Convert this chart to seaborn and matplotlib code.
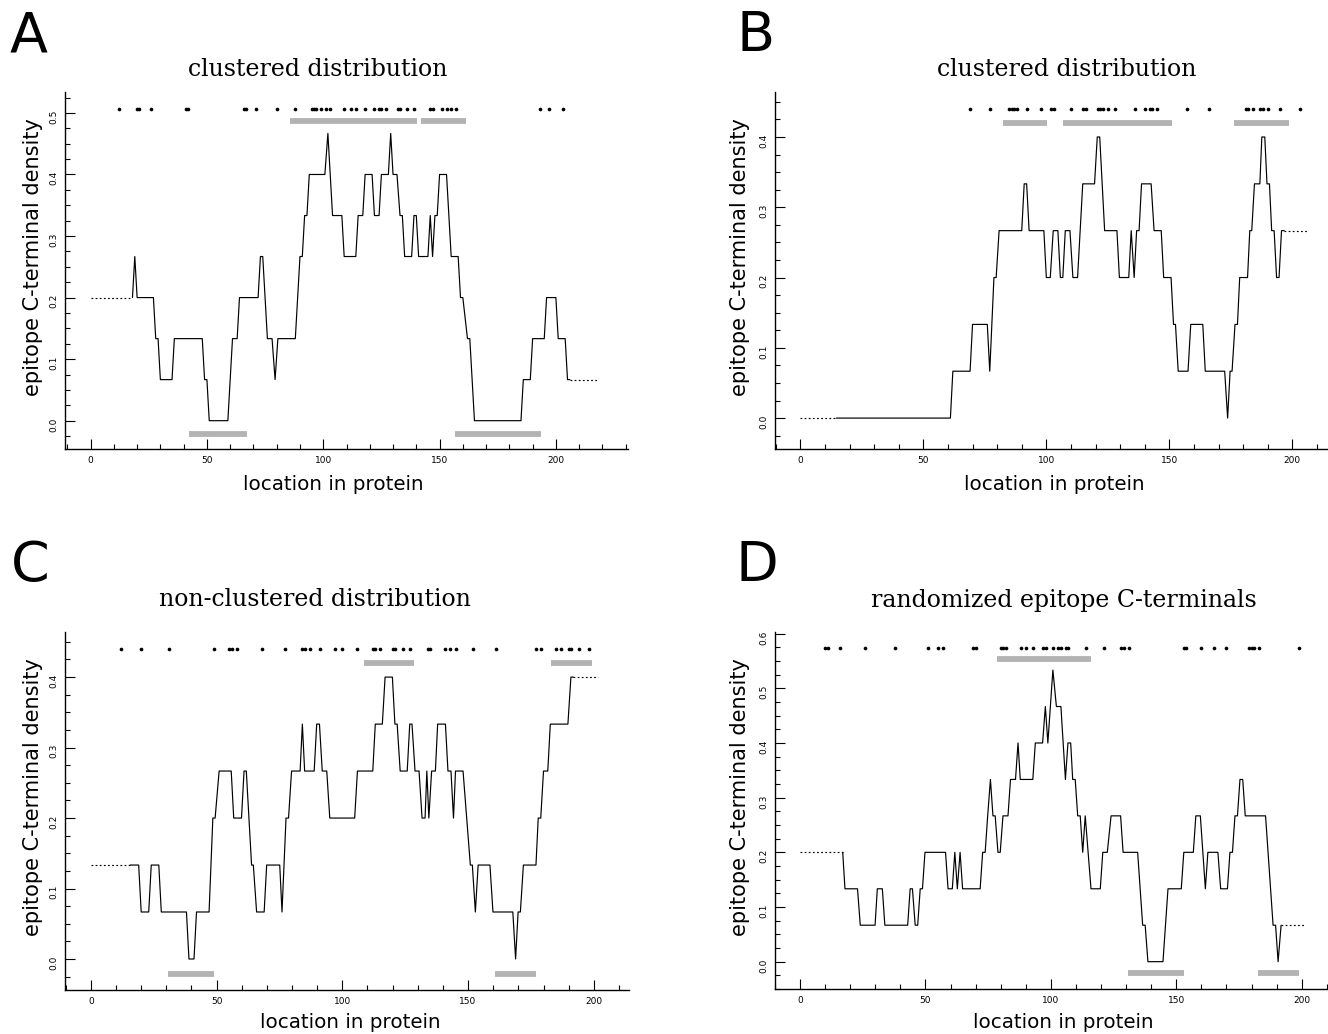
import matplotlib
matplotlib.use("Agg")
import matplotlib.pyplot as plt
import seaborn as sns
import pandas as pd
from matplotlib.ticker import MultipleLocator, FormatStrFormatter

sns.set_style("ticks")
plt.rcParams['font.family'] = ['DejaVu Sans']
plt.rcParams.update({"text.color": "black", "axes.labelcolor": "black",
                     "xtick.color": "black", "ytick.color": "black",
                     "axes.edgecolor": "black"})

# ---------------- data ----------------
titles = ["clustered distribution", "clustered distribution",
          "non-clustered distribution", "randomized epitope C-terminals"]
letters = ["A", "B", "C", "D"]

# Panel A
A_line_x = [18, 19, 20, 27, 28, 29, 30, 35, 36, 48, 49, 50, 51, 59, 61, 63, 64, 72, 73, 74,
            76, 78, 79.3, 80.5, 88, 90, 91, 92, 93, 94, 100.7, 102, 104, 108, 109, 114, 115, 117, 118, 121,
            122, 124, 125, 128, 129, 130, 131.7, 133, 134, 135, 138, 139, 140, 141, 145, 146, 147, 148, 149, 150,
            153, 154, 155, 158, 159, 160, 162, 163, 164, 165, 185, 186, 189, 190, 195, 196, 200, 201, 204, 205, 206]
A_line_y = [0.2, 0.2667, 0.2, 0.2, 0.1333, 0.1333, 0.0667, 0.0667, 0.1333, 0.1333,
            0.0667, 0.0667, 0.0, 0.0, 0.1333, 0.1333, 0.2, 0.2, 0.2667, 0.2667,
            0.1333, 0.1333, 0.0667, 0.1333, 0.1333, 0.2667, 0.2667, 0.3333, 0.3333, 0.4,
            0.4, 0.4667, 0.3333, 0.3333, 0.2667, 0.2667, 0.3333, 0.3333, 0.4, 0.4,
            0.3333, 0.3333, 0.4, 0.4, 0.4667, 0.4, 0.4, 0.3333, 0.3333, 0.2667,
            0.2667, 0.3333, 0.3333, 0.2667, 0.2667, 0.3333, 0.2667, 0.3333, 0.3333, 0.4,
            0.4, 0.3333, 0.2667, 0.2667, 0.2, 0.2, 0.1333, 0.1333, 0.0667, 0.0,
            0.0, 0.0667, 0.0667, 0.1333, 0.1333, 0.2, 0.2, 0.1333, 0.1333, 0.0667, 0.0667]
A_lead_x, A_lead_y = [0, 18], [0.2, 0.2]
A_tail_x, A_tail_y = [206, 218], [0.0667, 0.0667]
A_dots = [12, 20, 21, 26, 41, 42, 66, 67, 71, 80, 88, 95, 96, 97, 99, 101, 103, 109, 112, 114,
          118, 122, 124, 125, 127, 132, 133, 136, 139, 146, 147, 151, 153, 155, 157, 193, 197, 203]
A_top_start, A_top_end = [85.6, 141.9], [140.2, 161.3]
A_bot_start, A_bot_end = [42.5, 156.6], [67.1, 193.5]

# Panel B
B_line_x = [14.6, 61, 62, 69, 70, 76, 77, 78.7, 79.6, 80.8, 90, 91, 92, 93, 99, 100, 101.6, 102.8, 104.7, 105.7,
            106.7, 107.7, 109.6, 110.8, 112.7, 114.8, 119.6, 120.7, 121.7, 123.7, 128.7, 129.7, 133.5, 134.5,
            135.7, 136.7, 137.7, 138.7, 142.6, 143.8, 146.7, 147.7, 150.7, 151.7, 152.5, 153.6, 157.6, 158.7,
            163.6, 164.6, 172.5, 173.7, 174.7, 175.5, 176.7, 177.7, 178.6, 181.8, 182.7, 183.5, 184.6, 186.8,
            187.6, 188.8, 189.7, 190.7, 191.6, 192.6, 193.6, 194.6, 195.6, 196.7]
B_line_y = [0, 0, 0.0667, 0.0667, 0.1333, 0.1333, 0.0667, 0.2, 0.2, 0.2667,
            0.2667, 0.3333, 0.3333, 0.2667, 0.2667, 0.2, 0.2, 0.2667, 0.2667, 0.2,
            0.2, 0.2667, 0.2667, 0.2, 0.2, 0.3333, 0.3333, 0.4, 0.4, 0.2667,
            0.2667, 0.2, 0.2, 0.2667, 0.2, 0.2667, 0.2667, 0.3333, 0.3333, 0.2667,
            0.2667, 0.2, 0.2, 0.1333, 0.1333, 0.0667, 0.0667, 0.1333, 0.1333, 0.0667,
            0.0667, 0, 0.0667, 0.0667, 0.1333, 0.1333, 0.2, 0.2, 0.2667, 0.2667,
            0.3333, 0.3333, 0.4, 0.4, 0.3333, 0.3333, 0.2667, 0.2667, 0.2, 0.2,
            0.2667, 0.2667]
B_lead_x, B_lead_y = [0, 14.6], [0, 0]
B_tail_x, B_tail_y = [196.7, 205.8], [0.2667, 0.2667]
B_dots = [69, 77, 85, 86, 87, 88, 92, 98, 102, 103, 110, 115, 116, 121, 122, 123, 125, 128, 136, 140,
          142, 143, 145, 157, 166, 181, 182, 184, 187, 188, 190, 195, 203]
B_top_start, B_top_end = [82.5, 106.7, 176.3], [100.1, 151.1, 198.7]
B_bot_start, B_bot_end = [], []

# Panel C
C_line_x = [15.6, 19, 20, 23, 24, 27, 28, 38, 39, 41, 42, 47, 48.5, 49.4, 51, 55.8, 56.8, 59.9, 60.9, 61.8,
            63.9, 64.6, 65.9, 68.9, 69.9, 75.1, 76, 77.6, 78.6, 79.8, 83.2, 84.1, 85, 88.8, 89.8, 90.9, 92,
            93.8, 95, 104.9, 106, 112.1, 113.1, 115.9, 117, 119.9, 120.9, 121.8, 123, 125.8, 126.8, 127.7,
            128.9, 130.5, 131.7, 132.9, 133.6, 134.4, 135.5, 137, 137.9, 141, 142, 143.2, 144.2, 145, 148,
            150.9, 151.7, 152.9, 154, 158.7, 159.9, 167.8, 168.9, 169.9, 170.8, 172, 177, 177.9, 178.9, 180,
            181.7, 182.7, 189.7, 190.9, 191.9]
C_line_y = [0.1333, 0.1333, 0.0667, 0.0667, 0.1333, 0.1333, 0.0667, 0.0667, 0, 0,
            0.0667, 0.0667, 0.2, 0.2, 0.2667, 0.2667, 0.2, 0.2, 0.2667, 0.2667,
            0.1333, 0.1333, 0.0667, 0.0667, 0.1333, 0.1333, 0.0667, 0.2, 0.2, 0.2667,
            0.2667, 0.3333, 0.2667, 0.2667, 0.3333, 0.3333, 0.2667, 0.2667, 0.2, 0.2,
            0.2667, 0.2667, 0.3333, 0.3333, 0.4, 0.4, 0.3333, 0.3333, 0.2667, 0.2667,
            0.3333, 0.3333, 0.2667, 0.2667, 0.2, 0.2, 0.2667, 0.2, 0.2667, 0.2667,
            0.3333, 0.3333, 0.2667, 0.2667, 0.2, 0.2667, 0.2667, 0.1333, 0.1333, 0.0667,
            0.1333, 0.1333, 0.0667, 0.0667, 0, 0.0667, 0.0667, 0.1333, 0.1333, 0.2,
            0.2, 0.2667, 0.2667, 0.3333, 0.3333, 0.4, 0.4]
C_lead_x, C_lead_y = [0, 15.6], [0.1333, 0.1333]
C_tail_x, C_tail_y = [191.9, 201.5], [0.4, 0.4]
C_dots = [12, 20, 31, 49, 55, 56, 58, 68, 77, 84, 85, 87, 91, 97, 100, 106, 112, 113, 115, 120,
          121, 124, 127, 134, 135, 141, 143, 145, 152, 161, 177, 179, 185, 187, 190, 191, 194, 198]
C_top_start, C_top_end = [108.8, 183], [128.3, 199.4]
C_bot_start, C_bot_end = [30.7, 160.6], [49, 177]

# Panel D
D_line_x = [17, 17.9, 22.9, 24, 29.9, 30.8, 32.8, 33.8, 42.9, 43.9, 44.8, 45.9, 46.9, 47.9, 48.8, 49.8, 58, 59,
            60.7, 61.7, 62.7, 63.8, 64.8, 71.8, 72.8, 73.8, 74.8, 75.9, 76.9, 77.8, 78.9, 79.8, 80.9, 82.9,
            83.9, 85.9, 86.9, 87.8, 92.8, 93.8, 96.7, 97.8, 98.8, 100.8, 102.2, 104, 105.8, 106.8, 107.9,
            108.7, 109.7, 110.7, 111.7, 112.7, 113.7, 116, 119.7, 120.7, 122.5, 124, 127.8, 128.8, 134.6,
            135.6, 136.6, 137.6, 138.7, 144.7, 146.7, 152, 153, 156.8, 157.8, 159.6, 161.6, 162.6, 166.6,
            167.7, 170.4, 171.4, 172.4, 173.4, 174.4, 175.4, 176.5, 177.5, 185.6, 188.6, 189.6, 190.6, 191.8]
D_line_y = [0.2, 0.1333, 0.1333, 0.0667, 0.0667, 0.1333, 0.1333, 0.0667, 0.0667, 0.1333,
            0.1333, 0.0667, 0.0667, 0.1333, 0.1333, 0.2, 0.2, 0.1333, 0.1333, 0.2,
            0.1333, 0.2, 0.1333, 0.1333, 0.2, 0.2, 0.2667, 0.3333, 0.2667, 0.2667,
            0.2, 0.2, 0.2667, 0.2667, 0.3333, 0.3333, 0.4, 0.3333, 0.3333, 0.4,
            0.4, 0.4667, 0.4, 0.5333, 0.4667, 0.4667, 0.3333, 0.4, 0.4, 0.3333,
            0.3333, 0.2667, 0.2667, 0.2, 0.2667, 0.1333, 0.1333, 0.2, 0.2, 0.2667,
            0.2667, 0.2, 0.2, 0.1333, 0.0667, 0.0667, 0, 0, 0.1333, 0.1333,
            0.2, 0.2, 0.2667, 0.2667, 0.1333, 0.2, 0.2, 0.1333, 0.1333, 0.2,
            0.2, 0.2667, 0.2667, 0.3333, 0.3333, 0.2667, 0.2667, 0.0667, 0.0667, 0,
            0.0667]
D_lead_x, D_lead_y = [0, 17], [0.2, 0.2]
D_tail_x, D_tail_y = [191.8, 201], [0.0667, 0.0667]
D_dots = [10, 11, 16, 26, 38, 51, 55, 57, 69, 70, 80, 81, 82, 88, 90, 93, 97, 98, 101, 103,
          104, 106, 107, 114, 121, 128, 129, 131, 153, 154, 160, 165, 170, 179, 180, 181, 183, 199]
D_top_start, D_top_end = [78.6], [116.1]
D_bot_start, D_bot_end = [130.8, 182.5], [153.1, 198.9]

# ---------------- layout / style ----------------
W, H = 1328, 1034
fig = plt.figure(figsize=(W / 100, H / 100), dpi=100)

panels = [
    dict(line=(A_line_x, A_line_y), lead=(A_lead_x, A_lead_y), tail=(A_tail_x, A_tail_y), dots=A_dots,
         top=(A_top_start, A_top_end), bot=(A_bot_start, A_bot_end),
         box=(65, 628, 92, 449), xlim=(-11, 231), ylim=(-0.046, 0.534),
         dot_y=0.507, title_xy=(318, 70), letter_xy=(29, 36), xlab_xy=(333, 485), ylab_xy=(33, 257)),
    dict(line=(B_line_x, B_line_y), lead=(B_lead_x, B_lead_y), tail=(B_tail_x, B_tail_y), dots=B_dots,
         top=(B_top_start, B_top_end), bot=(B_bot_start, B_bot_end),
         box=(775, 1328, 92, 449), xlim=(-10.3, 214.5), ylim=(-0.044, 0.464),
         dot_y=0.440, title_xy=(1067, 70), letter_xy=(756, 36), xlab_xy=(1054, 485), ylab_xy=(740, 257)),
    dict(line=(C_line_x, C_line_y), lead=(C_lead_x, C_lead_y), tail=(C_tail_x, C_tail_y), dots=C_dots,
         top=(C_top_start, C_top_end), bot=(C_bot_start, C_bot_end),
         box=(65, 629, 632, 990), xlim=(-10.3, 214), ylim=(-0.044, 0.464),
         dot_y=0.440, title_xy=(315, 600), letter_xy=(30, 566), xlab_xy=(350, 1022), ylab_xy=(33, 797)),
    dict(line=(D_line_x, D_line_y), lead=(D_lead_x, D_lead_y), tail=(D_tail_x, D_tail_y), dots=D_dots,
         top=(D_top_start, D_top_end), bot=(D_bot_start, D_bot_end),
         box=(775, 1328, 632, 989), xlim=(-10, 210.5), ylim=(-0.05, 0.603),
         dot_y=0.573, title_xy=(1064, 600), letter_xy=(757, 566), xlab_xy=(1063, 1022), ylab_xy=(740, 797)),
]

bar_color = "#b3b3b3"

for i, p in enumerate(panels):
    l, r, t, b = p["box"]
    ax = fig.add_axes([l / W, 1 - b / H, (r - l) / W, (b - t) / H])
    ax.set_facecolor("white")

    lx, ly = p["line"]
    sns.lineplot(x=lx, y=ly, ax=ax, color="black", lw=0.85, sort=False, estimator=None)
    sns.lineplot(x=p["lead"][0], y=p["lead"][1], ax=ax, color="black", lw=0.85,
                 linestyle=(0, (1.5, 2)), sort=False, estimator=None)
    sns.lineplot(x=p["tail"][0], y=p["tail"][1], ax=ax, color="black", lw=0.85,
                 linestyle=(0, (1.5, 2)), sort=False, estimator=None)

    sns.scatterplot(x=p["dots"], y=[p["dot_y"]] * len(p["dots"]), ax=ax, color="black",
                    s=7, linewidth=0, legend=False)

    ts, te = p["top"]
    if ts:
        ax.hlines([p["dot_y"] - 0.02] * len(ts), ts, te, colors=bar_color, lw=4.2)
    bs, be = p["bot"]
    if bs:
        ax.hlines([-0.021] * len(bs), bs, be, colors=bar_color, lw=4.2)

    ax.set_xlim(*p["xlim"])
    ax.set_ylim(*p["ylim"])
    ax.xaxis.set_major_locator(MultipleLocator(50))
    ax.xaxis.set_minor_locator(MultipleLocator(10))
    ax.yaxis.set_major_locator(MultipleLocator(0.1))
    ax.yaxis.set_minor_locator(MultipleLocator(0.025))
    ax.yaxis.set_major_formatter(FormatStrFormatter("%.1f"))
    ax.set_xlabel("")
    ax.set_ylabel("")
    sns.despine(ax=ax)
    for s in ["left", "bottom"]:
        ax.spines[s].set_linewidth(1.0)
        ax.spines[s].set_color("black")
    ax.tick_params(which="major", direction="in", length=7, width=0.8, labelsize=6.5, color="black")
    ax.tick_params(which="minor", direction="in", length=3.5, width=0.8, color="black")
    ax.tick_params(axis="x", pad=5)
    ax.tick_params(axis="y", labelrotation=90, pad=5)
    ax.grid(False)

    tx, ty = p["title_xy"]
    fig.text(tx / W, 1 - ty / H, titles[i], family="DejaVu Serif", fontsize=17,
             ha="center", va="center", color="black")
    lx_, ly_ = p["letter_xy"]
    fig.text(lx_ / W, 1 - ly_ / H, letters[i], fontsize=40, ha="center", va="center", color="black")
    xx, xy = p["xlab_xy"]
    fig.text(xx / W, 1 - xy / H, "location in protein", fontsize=14.3, ha="center", va="center",
             color="black")
    yx, yy = p["ylab_xy"]
    fig.text(yx / W, 1 - yy / H, "epitope C-terminal density", fontsize=15, rotation=90,
             ha="center", va="center", color="black")

fig.savefig("out.png", dpi=100, facecolor="white")
